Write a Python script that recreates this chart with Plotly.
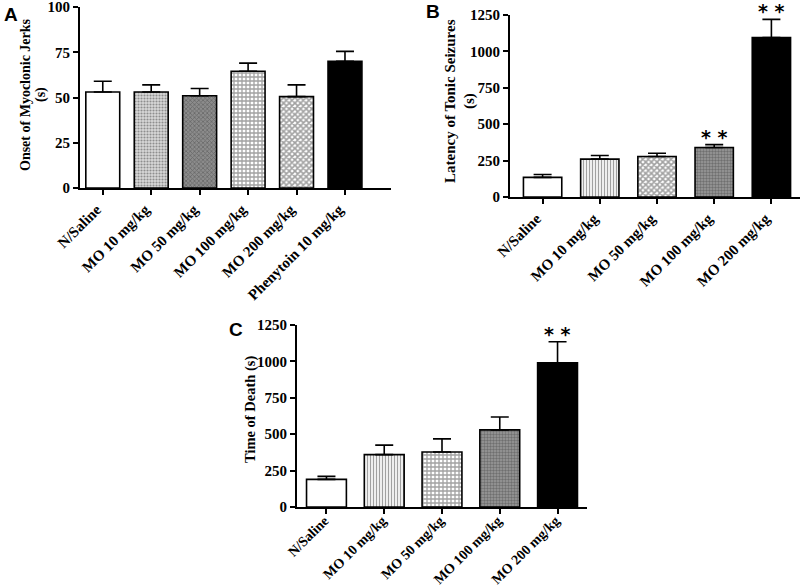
import plotly.graph_objects as go

# panel A - onset of myoclonic jerks
cats_a = ["N/Saline", "MO 10 mg/kg", "MO 50 mg/kg", "MO 100 mg/kg", "MO 200 mg/kg", "Phenytoin 10 mg/kg"]
mean_a = [53, 53, 51, 64.5, 50.5, 70]
err_a = [6, 4, 4, 4.5, 6.5, 5.5]

# panel B - latency of tonic seizures
cats_b = ["N/Saline", "MO 10 mg/kg", "MO 50 mg/kg", "MO 100 mg/kg", "MO 200 mg/kg"]
mean_b = [135, 260, 278, 340, 1095]
err_b = [20, 25, 22, 20, 125]
stars_b = ["", "", "", "* *", "* *"]

# panel C - time of death
cats_c = ["N/Saline", "MO 10 mg/kg", "MO 50 mg/kg", "MO 100 mg/kg", "MO 200 mg/kg"]
mean_c = [190, 360, 378, 530, 990]
err_c = [20, 65, 90, 88, 145]
stars_c = ["", "", "", "", "* *"]

W, H = 803, 586
SERIF = "Liberation Serif, Times New Roman, serif"

# (background, pattern shape, pattern colour, size, solidity)
fills_a = [("white", "", "black", 4, 0.3), ("#d8d8d8", ".", "#999999", 3, 0.4),
           ("#8c8c8c", "x", "#333333", 3, 0.45), ("white", "+", "#000000", 4, 0.55),
           ("white", "x", "#000000", 4, 0.65), ("black", "", "black", 4, 0.3)]
fills_b = [("white", "", "black", 4, 0.3), ("white", "|", "#111111", 3, 0.45),
           ("white", "x", "#000000", 4, 0.65), ("#9a9a9a", ".", "#444444", 3, 0.5),
           ("black", "", "black", 4, 0.3)]
fills_c = [("white", "", "black", 4, 0.3), ("white", "|", "#111111", 3, 0.45),
           ("white", "+", "#000000", 4, 0.55), ("#9a9a9a", ".", "#444444", 3, 0.5),
           ("black", "", "black", 4, 0.3)]


def dom(x0, x1, y0, y1):
    # pixel box -> paper fractions
    return [x0 / W, x1 / W], [1 - y1 / H, 1 - y0 / H]


def px_note(text, px, py, size, family=SERIF, angle=0, xanchor="center"):
    fig.add_annotation(x=px / W, y=1 - py / H, xref="paper", yref="paper", text=text,
                       showarrow=False, xanchor=xanchor, yanchor="middle", textangle=angle,
                       font=dict(family=family, size=size, color="black", weight="bold"))


fig = go.Figure()


def panel(n, cats, means, errs, fills, box, xr, yr, dtick, bw, xfont, xshift, xstand, stars=None):
    xd, yd = dom(*box)
    xa = "x" if n == 1 else "x%d" % n
    ya = "y" if n == 1 else "y%d" % n
    fig.add_trace(go.Bar(
        x=cats, y=means, width=bw, xaxis=xa, yaxis=ya, showlegend=False,
        marker=dict(
            color=[f[0] for f in fills],
            line=dict(color="black", width=1.6),
            pattern=dict(shape=[f[1] for f in fills], fgcolor=[f[2] for f in fills],
                         size=[f[3] for f in fills], solidity=[f[4] for f in fills],
                         fillmode="overlay"),
        ),
        error_y=dict(type="data", symmetric=False, array=errs, arrayminus=[0] * len(errs),
                     color="black", thickness=1.6, width=9),
    ))
    if stars:
        for c, m, e, s in zip(cats, means, errs, stars):
            if s:
                fig.add_annotation(x=c, y=m + e, xref=xa, yref=ya, text="<b>" + s + "</b>",
                                   showarrow=False, yanchor="bottom", yshift=-5,
                                   font=dict(family="DejaVu Sans", size=19, color="black"))
    axis_common = dict(showline=True, linecolor="black", linewidth=2, ticks="outside",
                       tickcolor="black", tickwidth=1.5, showgrid=False, zeroline=False,
                       automargin=False, ticklabeloverflow="allow")
    fig.layout[("xaxis" if n == 1 else "xaxis%d" % n)] = dict(
        domain=xd, anchor=ya, type="category", range=xr, ticklen=5, tickangle=-45,
        ticklabelshift=xshift, ticklabelstandoff=xstand,
        tickfont=dict(family=SERIF, size=xfont, color="black", weight="bold"), **axis_common)
    fig.layout[("yaxis" if n == 1 else "yaxis%d" % n)] = dict(
        domain=yd, anchor=xa, range=yr, dtick=dtick, ticklen=5,
        tickfont=dict(family=SERIF, size=15, color="black", weight="bold"), **axis_common)


panel(1, cats_a, mean_a, err_a, fills_a, (80, 391, 7, 188), [-0.47, 5.95], [0, 100], 25, 0.7, 15, -6, 0)
panel(2, cats_b, mean_b, err_b, fills_b, (510, 800, 15, 197), [-0.57, 4.5], [0, 1250], 250, 0.67, 15, -6, 0,
      stars_b)
panel(3, cats_c, mean_c, err_c, fills_c, (297, 587, 325, 507), [-0.51, 4.51], [0, 1250], 250, 0.69, 14, -2, -7,
      stars_c)

# y axis titles, set as rotated notes so the line gap matches
px_note("Onset of Myoclonic Jerks", 26, 95, 14, angle=-90)
px_note("(s)", 41, 95, 14, angle=-90)
px_note("Latency of Tonic Seizures", 450, 101, 15, angle=-90)
px_note("(s)", 469, 101, 15, angle=-90)
px_note("Time of Death (s)", 251, 409, 14.5, angle=-90)

# panel letters
px_note("A", 2, 14, 19, family="Liberation Sans, Arial", xanchor="left")
px_note("B", 424, 12, 19, family="Liberation Sans, Arial", xanchor="left")
px_note("C", 227, 329, 19, family="Liberation Sans, Arial", xanchor="left")

fig.update_layout(width=W, height=H, margin=dict(l=0, r=0, t=0, b=0),
                  plot_bgcolor="white", paper_bgcolor="white")

# page body has a default margin, drop it so the figure sits at the corner
fig.write_html("out.html", config={"displayModeBar": False},
               post_script="document.body.style.margin='0';")
